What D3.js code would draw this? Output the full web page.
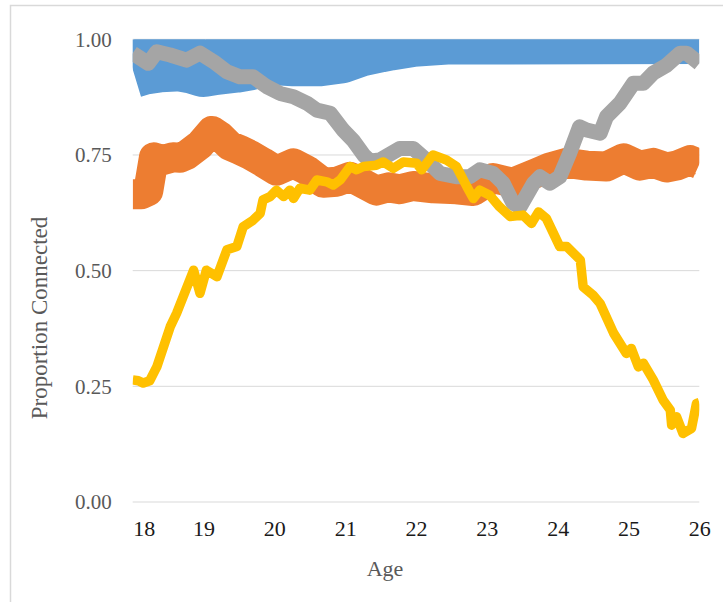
<!DOCTYPE html>
<html>
<head>
<meta charset="utf-8">
<script src="https://cdn.jsdelivr.net/npm/d3@7/dist/d3.min.js"></script>
<style>
  html, body { margin: 0; padding: 0; background: #ffffff; }
  svg { display: block; }
  svg text { font-family: "Liberation Serif", "Times New Roman", "DejaVu Serif", serif; }
</style>
</head>
<body>
<svg id="chart" width="723" height="602"></svg>
<script>
// ---- data ----
const xTicks = [18, 19, 20, 21, 22, 23, 24, 25, 26];
const yTicks = [0, 0.25, 0.5, 0.75, 1.0];

const blueAge = [18.00, 18.15, 18.39, 18.67, 18.85, 19.00, 19.15, 19.33, 19.45, 19.61, 19.80, 20.03, 20.27, 20.64, 20.93, 21.21, 21.49, 21.63, 21.96, 22.43, 26.00];
const blueVal = [0.935, 0.942, 0.947, 0.949, 0.944, 0.937, 0.941, 0.944, 0.946, 0.950, 0.958, 0.962, 0.960, 0.960, 0.966, 0.981, 0.990, 0.994, 1.002, 1.007, 1.008];

const orangeAge = [18.00, 18.12, 18.22, 18.30, 18.43, 18.57, 18.67, 18.76, 18.95, 19.12, 19.23, 19.37, 19.51, 19.66, 19.84, 20.03, 20.27, 20.46, 20.69, 20.88, 21.07, 21.21, 21.44, 21.61, 21.77, 21.96, 22.24, 22.57, 22.81, 23.09, 23.37, 23.70, 23.89, 24.13, 24.41, 24.69, 24.93, 25.16, 25.35, 25.54, 25.68, 25.87, 26.00];
const orangeVal = [0.665, 0.665, 0.672, 0.745, 0.739, 0.745, 0.744, 0.750, 0.772, 0.802, 0.791, 0.770, 0.761, 0.750, 0.734, 0.716, 0.732, 0.717, 0.690, 0.692, 0.703, 0.692, 0.673, 0.680, 0.676, 0.683, 0.678, 0.676, 0.672, 0.700, 0.690, 0.711, 0.723, 0.733, 0.727, 0.725, 0.743, 0.727, 0.733, 0.723, 0.727, 0.739, 0.730];

const grayAge = [18.00, 18.22, 18.34, 18.53, 18.76, 18.95, 19.14, 19.33, 19.51, 19.70, 19.89, 20.08, 20.27, 20.46, 20.60, 20.79, 20.97, 21.11, 21.26, 21.35, 21.49, 21.77, 21.96, 22.15, 22.34, 22.57, 22.76, 22.90, 23.09, 23.23, 23.37, 23.47, 23.66, 23.75, 23.89, 24.03, 24.17, 24.31, 24.41, 24.60, 24.69, 24.88, 25.07, 25.21, 25.35, 25.54, 25.73, 25.82, 26.00];
const grayVal = [0.970, 0.948, 0.973, 0.966, 0.955, 0.970, 0.952, 0.930, 0.919, 0.919, 0.898, 0.883, 0.876, 0.862, 0.847, 0.840, 0.804, 0.782, 0.750, 0.737, 0.739, 0.764, 0.764, 0.739, 0.710, 0.703, 0.703, 0.718, 0.710, 0.689, 0.646, 0.638, 0.689, 0.703, 0.689, 0.703, 0.754, 0.811, 0.804, 0.797, 0.833, 0.862, 0.905, 0.905, 0.927, 0.944, 0.970, 0.970, 0.948];

const yellowAge = [18.00, 18.08, 18.15, 18.24, 18.34, 18.53, 18.62, 18.86, 18.95, 19.04, 19.19, 19.33, 19.47, 19.56, 19.70, 19.80, 19.84, 19.94, 20.03, 20.13, 20.22, 20.27, 20.36, 20.50, 20.60, 20.74, 20.83, 20.93, 21.07, 21.16, 21.26, 21.44, 21.54, 21.68, 21.82, 22.01, 22.08, 22.24, 22.43, 22.57, 22.72, 22.81, 22.90, 23.04, 23.18, 23.33, 23.51, 23.63, 23.73, 23.84, 24.03, 24.13, 24.32, 24.36, 24.50, 24.60, 24.79, 24.97, 25.04, 25.14, 25.21, 25.35, 25.49, 25.59, 25.61, 25.68, 25.77, 25.89, 25.96, 26.00];
const yellowVal = [0.264, 0.262, 0.257, 0.262, 0.292, 0.379, 0.408, 0.501, 0.451, 0.501, 0.487, 0.545, 0.552, 0.595, 0.609, 0.624, 0.653, 0.660, 0.674, 0.660, 0.674, 0.656, 0.678, 0.674, 0.696, 0.692, 0.685, 0.696, 0.725, 0.718, 0.725, 0.728, 0.735, 0.721, 0.735, 0.732, 0.718, 0.750, 0.739, 0.725, 0.681, 0.656, 0.674, 0.663, 0.638, 0.617, 0.620, 0.602, 0.627, 0.613, 0.552, 0.552, 0.523, 0.465, 0.447, 0.429, 0.365, 0.321, 0.332, 0.292, 0.300, 0.264, 0.220, 0.199, 0.166, 0.184, 0.148, 0.159, 0.213, 0.215];

// ---- chart ----
const svg = d3.select("#chart");
const plotL = 132.7, plotR = 699.3, plotT = 39.3, plotB = 502;
const serifFont = "'Liberation Serif', 'Times New Roman', 'DejaVu Serif', serif";

const x = d3.scaleLinear().domain([18, 26]).range([plotL, plotR]);
const y = d3.scaleLinear().domain([0, 1]).range([plotB, plotT]);

// outer frame
svg.append("rect")
  .attr("x", 10.5).attr("y", 5.5)
  .attr("width", 800).attr("height", 700)
  .attr("fill", "none").attr("stroke", "#d9d9d9").attr("stroke-width", 1.5);

// gridlines
svg.append("g").selectAll("line").data(yTicks).join("line")
  .attr("x1", plotL).attr("x2", plotR)
  .attr("y1", d => y(d)).attr("y2", d => y(d))
  .attr("stroke", "#d9d9d9").attr("stroke-width", 1);

// clip
svg.append("clipPath").attr("id", "plotclip")
  .append("rect").attr("x", plotL).attr("y", plotT)
  .attr("width", plotR - plotL).attr("height", plotB - plotT);

const line = d3.line().x(d => x(d[0])).y(d => y(d[1]));
const series = [
  { age: blueAge, val: blueVal, color: "#5B9BD5", w: 57 },
  { age: orangeAge, val: orangeVal, color: "#ED7D31", w: 30 },
  { age: grayAge, val: grayVal, color: "#A5A5A5", w: 15 },
  { age: yellowAge, val: yellowVal, color: "#FFC000", w: 9.5 }
];
const gLines = svg.append("g").attr("clip-path", "url(#plotclip)");
series.forEach(s => {
  gLines.append("path")
    .datum(s.age.map((a, i) => [a, s.val[i]]))
    .attr("d", line)
    .attr("fill", "none")
    .attr("stroke", s.color)
    .attr("stroke-width", s.w)
    .attr("stroke-linejoin", "round")
    .attr("stroke-linecap", "butt");
});

// y axis
const yAxis = svg.append("g")
  .attr("transform", `translate(${plotL},0)`)
  .call(d3.axisLeft(y).tickValues(yTicks).tickFormat(d3.format(".2f")).tickSize(0).tickPadding(21));
yAxis.attr("font-family", null);
yAxis.select(".domain").remove();
yAxis.selectAll("text")
  .style("font-family", serifFont)
  .style("font-size", "21px").attr("fill", "#595959");

// x axis
const xAxis = svg.append("g")
  .attr("transform", `translate(0,${plotB})`)
  .call(d3.axisBottom(x).tickValues(xTicks).tickFormat(d3.format("d")).tickSize(0).tickPadding(18));
xAxis.attr("font-family", null);
xAxis.select(".domain").remove();
xAxis.selectAll("text")
  .style("font-family", serifFont)
  .style("font-size", "22px").attr("fill", "#1a1a1a");
xAxis.selectAll(".tick").filter(d => d === 18).select("text").attr("text-anchor", "start");

// axis titles
svg.append("text")
  .attr("transform", "translate(47,318) rotate(-90)")
  .attr("text-anchor", "middle")
  .style("font-family", serifFont)
  .style("font-size", "23px").attr("fill", "#595959")
  .text("Proportion Connected");

svg.append("text")
  .attr("x", 385).attr("y", 576)
  .attr("text-anchor", "middle")
  .style("font-family", serifFont)
  .style("font-size", "22px").attr("fill", "#595959")
  .text("Age");
</script>
</body>
</html>
